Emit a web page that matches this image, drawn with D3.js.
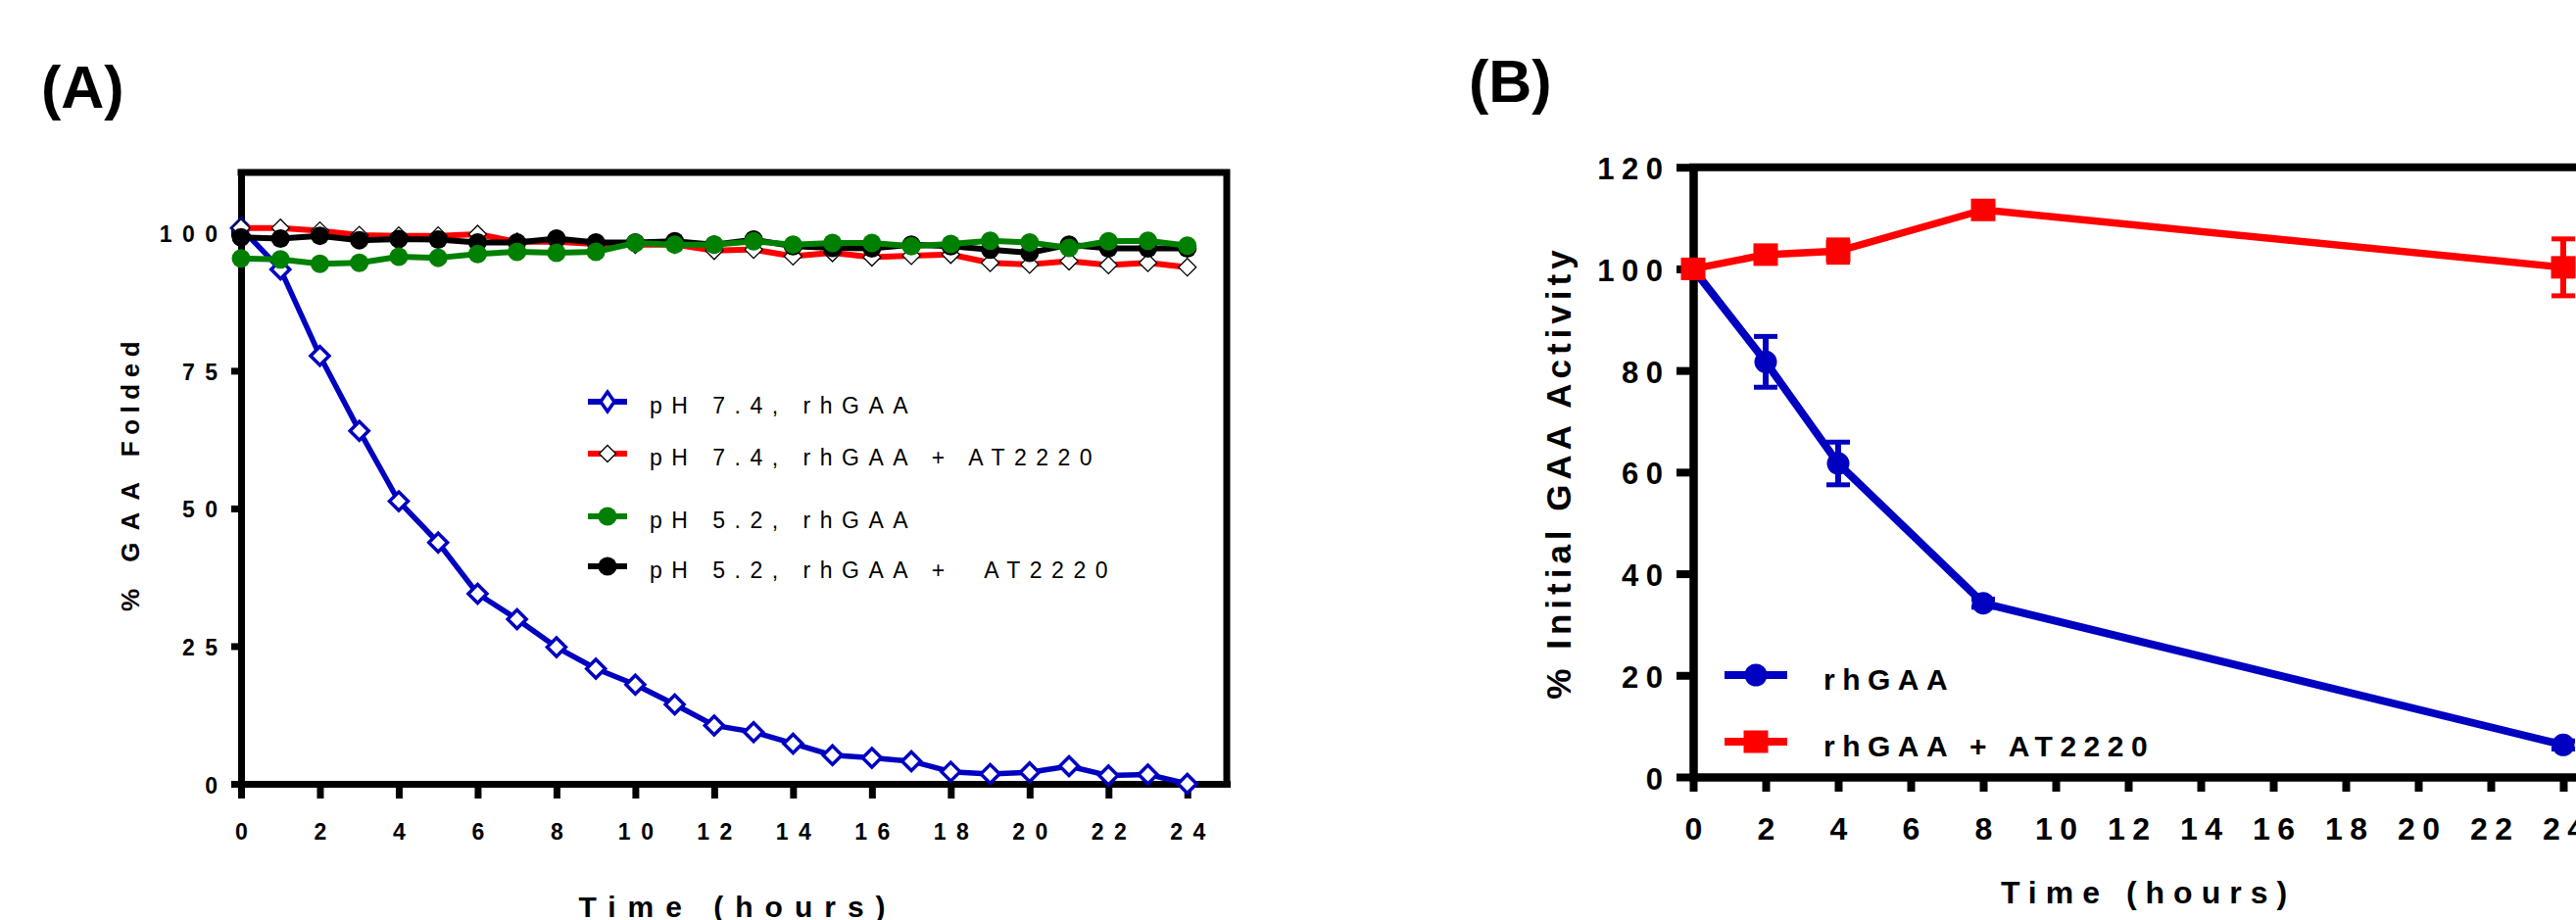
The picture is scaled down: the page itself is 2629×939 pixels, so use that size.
<!DOCTYPE html>
<html><head><meta charset="utf-8">
<script src="https://cdn.jsdelivr.net/npm/d3@7"></script>
<style>
body{margin:0;background:#fff;overflow:hidden}
text{font-family:Arial,"Liberation Sans",sans-serif;fill:#000}
</style></head><body>
<svg id="c" width="2629" height="939"></svg>
<script>
// ---------- Panel A data ----------
const hoursA = [0,1,2,3,4,5,6,7,8,9,10,11,12,13,14,15,16,17,18,19,20,21,22,23,24];
const ph74 = [100.9,93.4,77.7,64.1,51.3,43.8,34.5,29.9,24.8,20.9,18.0,14.4,10.6,9.4,7.3,5.2,4.7,4.1,2.2,1.8,2.1,3.2,1.5,1.7,0.0];
const ph74AT = [100.9,100.9,100.4,99.6,99.5,99.5,99.8,98.4,98.4,98.0,97.9,97.9,96.8,97.0,95.8,96.4,95.6,95.9,96.1,94.6,94.3,94.9,94.2,94.6,93.8];
const ph52 = [95.4,95.2,94.4,94.6,95.7,95.5,96.2,96.6,96.4,96.6,98.2,97.9,97.9,98.5,97.9,98.2,98.2,97.6,98.0,98.6,98.3,97.3,98.5,98.6,97.7];
const ph52AT = [99.2,99.0,99.5,98.7,98.9,98.8,98.3,98.3,99.0,98.3,98.3,98.5,97.9,98.8,97.6,97.3,97.2,97.9,97.6,97.0,96.4,97.9,97.2,97.2,97.2];
const xTicksA = [0,2,4,6,8,10,12,14,16,18,20,22,24];
const yTicksA = [0,25,50,75,100];
const legendA = ["pH 7.4, rhGAA","pH 7.4, rhGAA + AT2220","pH 5.2, rhGAA","pH 5.2, rhGAA +  AT2220"];

// ---------- Panel B data ----------
const hoursB = [0,2,4,8,24];
const rhGAA = [100,81.7,61.7,34.2,6.3];
const rhGAAErr = [0,5.0,4.2,0.8,0.8];
const rhGAAAT = [100,102.8,103.5,111.6,100.3];
const rhGAAATErr = [0,0.6,2.2,0.8,5.6];
const xTicksB = [0,2,4,6,8,10,12,14,16,18,20,22,24];
const yTicksB = [0,20,40,60,80,100,120];
const legendB = ["rhGAA","rhGAA + AT2220"];

const BLUE = "#0000c0", RED = "#ff0000", GREEN = "#008000", BLACK = "#000000";
const svg = d3.select("#c");
svg.append("rect").attr("width",2629).attr("height",939).attr("fill","#fff");

function diamond(hw, hh){ return `M0,${-hh}L${hw},0L0,${hh}L${-hw},0Z`; }

// ================= PANEL A =================
const xA = d3.scaleLinear().domain([0,25]).range([246,1252]);
const yA = d3.scaleLinear().domain([0,111]).range([800,176]);
const gA = svg.append("g");

// frame (top & right)
gA.append("path").attr("d",`M${xA(0)},${yA(111)}H${xA(25)}V${yA(0)}`)
  .attr("fill","none").attr("stroke","#000").attr("stroke-width",7).attr("stroke-linecap","square");

const lsA = 10.5;
const axBA = gA.append("g").attr("transform",`translate(0,${yA(0)})`)
  .call(d3.axisBottom(xA).tickValues(xTicksA).tickSize(15).tickSizeOuter(0).tickFormat(d3.format("d")));
axBA.select(".domain").attr("stroke-width",7).attr("stroke-linecap","square");
axBA.selectAll(".tick line").attr("stroke-width",7);
axBA.selectAll(".tick text").attr("y",57).attr("dy",null).attr("dx",lsA/2)
  .attr("font-size",23).attr("font-weight","bold").attr("font-family","Arial, Liberation Sans, sans-serif")
  .style("letter-spacing",lsA+"px");

const axLA = gA.append("g").attr("transform",`translate(${xA(0)},0)`)
  .call(d3.axisLeft(yA).tickValues(yTicksA).tickSize(10).tickSizeOuter(0).tickFormat(d3.format("d")));
axLA.select(".domain").attr("stroke-width",7).attr("stroke-linecap","square");
axLA.selectAll(".tick line").attr("stroke-width",7);
axLA.selectAll(".tick text").attr("x",-24+lsA).attr("dy",9)
  .attr("font-size",23).attr("font-weight","bold").attr("font-family","Arial, Liberation Sans, sans-serif")
  .style("letter-spacing",lsA+"px");

const lineA = vals => d3.line().x((d,i)=>xA(hoursA[i])).y(d=>yA(d))(vals);

// blue pH 7.4
gA.append("path").attr("d",lineA(ph74)).attr("fill","none").attr("stroke",BLUE).attr("stroke-width",5.5).attr("stroke-linejoin","round");
gA.selectAll(".mb").data(ph74).enter().append("path")
  .attr("transform",(d,i)=>`translate(${xA(hoursA[i])},${yA(d)})`)
  .attr("d",diamond(9.5,9.5)).attr("fill","#fff").attr("stroke",BLUE).attr("stroke-width",3.5);
// red pH 7.4 + AT2220
gA.append("path").attr("d",lineA(ph74AT)).attr("fill","none").attr("stroke",RED).attr("stroke-width",6).attr("stroke-linejoin","round");
gA.selectAll(".mr").data(ph74AT).enter().append("path")
  .attr("transform",(d,i)=>`translate(${xA(hoursA[i])},${yA(d)})`)
  .attr("d",diamond(9,9)).attr("fill","#fff").attr("stroke","#000").attr("stroke-width",1.3);
// black pH 5.2 + AT2220
gA.append("path").attr("d",lineA(ph52AT)).attr("fill","none").attr("stroke",BLACK).attr("stroke-width",6).attr("stroke-linejoin","round");
gA.selectAll(".mk").data(ph52AT).enter().append("circle")
  .attr("cx",(d,i)=>xA(hoursA[i])).attr("cy",d=>yA(d)).attr("r",9.5).attr("fill",BLACK);
// green pH 5.2
gA.append("path").attr("d",lineA(ph52)).attr("fill","none").attr("stroke",GREEN).attr("stroke-width",6).attr("stroke-linejoin","round");
gA.selectAll(".mg").data(ph52).enter().append("circle")
  .attr("cx",(d,i)=>xA(hoursA[i])).attr("cy",d=>yA(d)).attr("r",9.5).attr("fill",GREEN);

// legend A
const legAy = [410,463,527,578];
const legAcol = [BLUE,RED,GREEN,BLACK];
legendA.forEach((t,i)=>{
  const y = legAy[i];
  gA.append("line").attr("x1",600).attr("x2",640).attr("y1",y).attr("y2",y).attr("stroke",legAcol[i]).attr("stroke-width",6);
  if(i===0) gA.append("path").attr("transform",`translate(620,${y})`).attr("d",diamond(7,10)).attr("fill","#fff").attr("stroke",BLUE).attr("stroke-width",3.5);
  if(i===1) gA.append("path").attr("transform",`translate(620,${y})`).attr("d",diamond(8.5,8.5)).attr("fill","#fff").attr("stroke","#000").attr("stroke-width",1.3);
  if(i>=2) gA.append("circle").attr("cx",620).attr("cy",y).attr("r",9.5).attr("fill",legAcol[i]);
  gA.append("text").attr("x",663).attr("y",y+12).attr("font-size",23).style("letter-spacing","9.5px")
    .style("white-space","pre").text(t);
});

// titles A
svg.append("text").attr("x",42).attr("y",110).attr("font-size",61).attr("font-weight","bold").text("(A)");
svg.append("text").attr("x",747+6).attr("y",936).attr("text-anchor","middle").attr("font-size",30)
  .attr("font-weight","bold").style("letter-spacing","12px").text("Time (hours)");
const ytA = svg.append("text").attr("transform","translate(142,483) rotate(-90)").attr("text-anchor","middle")
  .attr("font-size",26).attr("font-weight","bold");
ytA.append("tspan").style("letter-spacing","10px").text("% ");
ytA.append("tspan").style("letter-spacing","12px").text("GAA");
ytA.append("tspan").style("letter-spacing","6.5px").text(" Folded");

// ================= PANEL B =================
const xB = d3.scaleLinear().domain([0,25]).range([1728,1728+25*37]);
const yB = d3.scaleLinear().domain([0,120]).range([793,170.7]);
const gB = svg.append("g");

gB.append("path").attr("d",`M${xB(0)},${yB(120)}H${xB(25)}V${yB(0)}`)
  .attr("fill","none").attr("stroke","#000").attr("stroke-width",8).attr("stroke-linecap","square");

const lsB = 7.5;
const axBB = gB.append("g").attr("transform",`translate(0,${yB(0)})`)
  .call(d3.axisBottom(xB).tickValues(xTicksB).tickSize(15).tickSizeOuter(0).tickFormat(d3.format("d")));
axBB.select(".domain").attr("stroke-width",8.5).attr("stroke-linecap","square");
axBB.selectAll(".tick line").attr("stroke-width",8);
axBB.selectAll(".tick text").attr("y",64).attr("dy",null).attr("dx",lsB/2)
  .attr("font-size",32).attr("font-weight","bold").attr("font-family","Arial, Liberation Sans, sans-serif")
  .style("letter-spacing",lsB+"px");

const axLB = gB.append("g").attr("transform",`translate(${xB(0)},0)`)
  .call(d3.axisLeft(yB).tickValues(yTicksB).tickSize(17).tickSizeOuter(0).tickFormat(d3.format("d")));
axLB.select(".domain").attr("stroke-width",8.5).attr("stroke-linecap","square");
axLB.selectAll(".tick line").attr("stroke-width",8);
axLB.selectAll(".tick text").attr("x",-31+lsB).attr("dy",12)
  .attr("font-size",31).attr("font-weight","bold").attr("font-family","Arial, Liberation Sans, sans-serif")
  .style("letter-spacing",lsB+"px");

const lineB = vals => d3.line().x((d,i)=>xB(hoursB[i])).y(d=>yB(d))(vals);
function errBars(vals, errs, col){
  vals.forEach((v,i)=>{
    const x = xB(hoursB[i]), e = errs[i];
    if(e<=0) return;
    gB.append("line").attr("x1",x).attr("x2",x).attr("y1",yB(v-e)).attr("y2",yB(v+e)).attr("stroke",col).attr("stroke-width",6);
    [v-e,v+e].forEach(w=>gB.append("line").attr("x1",x-12).attr("x2",x+12).attr("y1",yB(w)).attr("y2",yB(w)).attr("stroke",col).attr("stroke-width",5));
  });
}
// blue rhGAA
gB.append("path").attr("d",lineB(rhGAA)).attr("fill","none").attr("stroke",BLUE).attr("stroke-width",8).attr("stroke-linejoin","round");
errBars(rhGAA, rhGAAErr, BLUE);
gB.selectAll(".bb").data(rhGAA).enter().append("circle")
  .attr("cx",(d,i)=>xB(hoursB[i])).attr("cy",d=>yB(d)).attr("r",11.5).attr("fill",BLUE);
// red rhGAA + AT2220
gB.append("path").attr("d",lineB(rhGAAAT)).attr("fill","none").attr("stroke",RED).attr("stroke-width",7.5).attr("stroke-linejoin","round");
errBars(rhGAAAT, rhGAAATErr, RED);
gB.selectAll(".br").data(rhGAAAT).enter().append("rect")
  .attr("x",(d,i)=>xB(hoursB[i])-12.5).attr("y",d=>yB(d)-11.5).attr("width",25).attr("height",23).attr("fill",RED);

// legend B
const legBy = [689,757];
const legBcol = [BLUE,RED];
legendB.forEach((t,i)=>{
  const y = legBy[i];
  gB.append("line").attr("x1",1760).attr("x2",1824).attr("y1",y).attr("y2",y).attr("stroke",legBcol[i]).attr("stroke-width",8);
  if(i===0) gB.append("circle").attr("cx",1792).attr("cy",y).attr("r",11.5).attr("fill",BLUE);
  else gB.append("rect").attr("x",1792-12.5).attr("y",y-11.5).attr("width",25).attr("height",23).attr("fill",RED);
  gB.append("text").attr("x",1861).attr("y",y+15).attr("font-size",30).attr("font-weight","bold")
    .style("letter-spacing","7.5px").text(t);
});

// titles B
svg.append("text").attr("x",1499).attr("y",104).attr("font-size",61).attr("font-weight","bold").text("(B)");
svg.append("text").attr("x",2188+4.5).attr("y",922).attr("text-anchor","middle").attr("font-size",32)
  .attr("font-weight","bold").style("letter-spacing","9px").text("Time (hours)");
svg.append("text").attr("transform","translate(1603,482) rotate(-90)").attr("text-anchor","middle")
  .attr("font-size",35).attr("font-weight","bold").style("letter-spacing","5px").text("% Initial GAA Activity");
</script>
</body></html>
